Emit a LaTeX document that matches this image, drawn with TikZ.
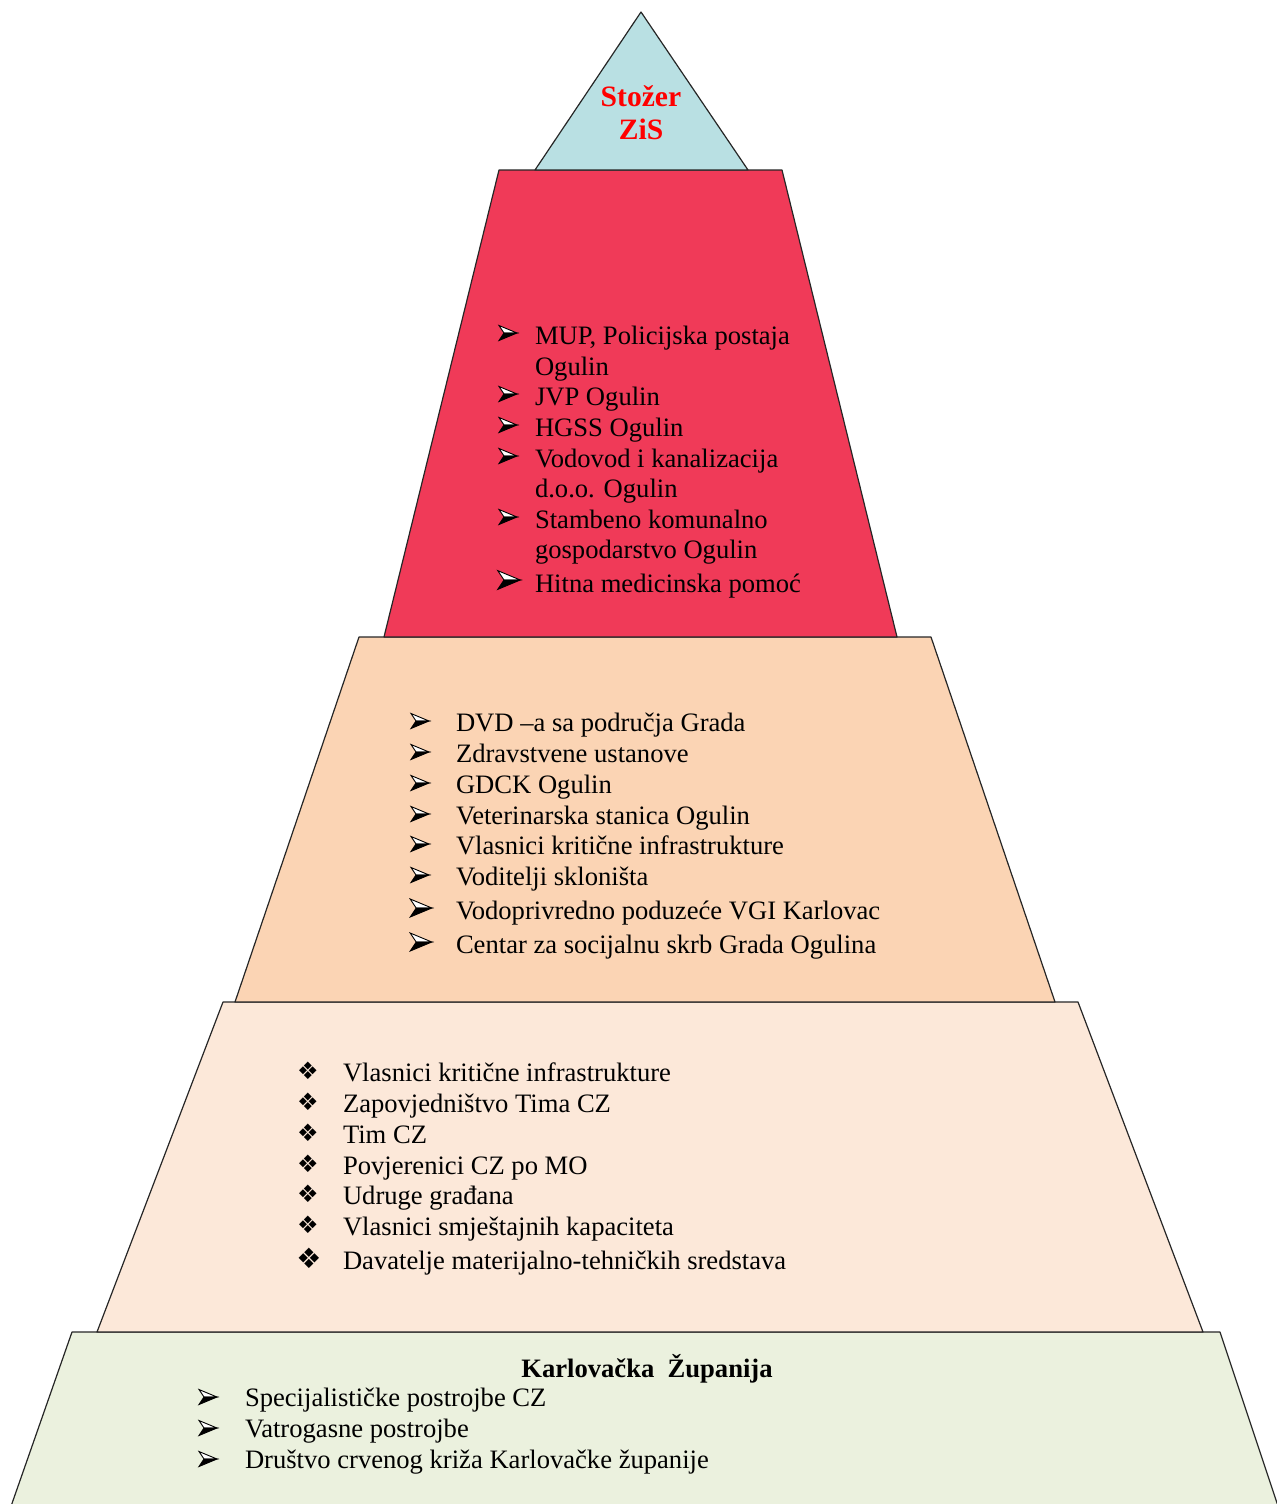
\documentclass[tikz,border=0pt]{standalone}
\usepackage{fontspec}
\setmainfont{Liberation Serif}
\newfontfamily\symfont{DejaVu Sans}
\definecolor{cTop}{HTML}{B9E0E3}
\definecolor{cRed}{HTML}{F03A58}
\definecolor{cPeach}{HTML}{FBD4B4}
\definecolor{cLight}{HTML}{FCE8D9}
\definecolor{cGreen}{HTML}{EBF1DE}
\definecolor{cTitle}{HTML}{FF0000}
\begin{document}
\begin{tikzpicture}[x=0.5pt,y=-0.5pt,
  every node/.style={inner sep=0pt,outer sep=0pt},
  layer/.style={draw=black!85,line width=0.6pt,line join=round},
  txt/.style={anchor=base west,font=\fontsize{13.3}{15}\selectfont},
  dia/.style={anchor=center,font=\symfont\fontsize{12}{13}\selectfont},
  diabig/.style={anchor=center,font=\symfont\fontsize{14}{15}\selectfont},
  title/.style={anchor=base,font=\bfseries\fontsize{14.8}{16}\selectfont,text=cTitle},
  arrowbul/.pic={
    \draw[line width=0.45pt,fill=white,line join=miter] (9,0) -- (-9,-7.5) -- (-4,0) -- cycle;
    \draw[line width=0.45pt,fill=black,line join=miter] (9,0) -- (-4,0) -- (-9,7.5) -- cycle;
  }]
\useasboundingbox (0,0) rectangle (1277,1504);
\clip (0,0) rectangle (1277,1504);
% layers
\draw[layer,fill=cGreen] (72,1332) -- (1220,1332) -- (1280,1512) -- (9,1512) -- cycle;
\draw[layer,fill=cLight] (223,1002) -- (1078,1002) -- (1203,1332) -- (97,1332) -- cycle;
\draw[layer,fill=cPeach] (359,637) -- (931,637) -- (1055,1002) -- (235,1002) -- cycle;
\draw[layer,fill=cRed] (499,170) -- (782,170) -- (897,637) -- (384,637) -- cycle;
\draw[layer,fill=cTop] (641,12) -- (748,170) -- (535,170) -- cycle;
% apex
\node[title] (t1) at (641,107) {Stožer};
\node[title] (t2) at (641,140) {ZiS};
% red section
\pic at (508,333) {arrowbul};
\node[txt] (r1) at (535,344) {MUP, Policijska postaja};
\node[txt] (r1b) at (535,375) {Ogulin};
\pic at (508,394) {arrowbul};
\node[txt] (r2) at (535,405) {JVP Ogulin};
\pic at (508,425) {arrowbul};
\node[txt] (r3) at (535,436) {HGSS Ogulin};
\pic at (508,456) {arrowbul};
\node[txt] (r4) at (535,467) {Vodovod i kanalizacija};
\node[txt] (r4b) at (535,497) {d.o.o. Ogulin};
\pic at (508,517) {arrowbul};
\node[txt] (r5) at (535,528) {Stambeno komunalno};
\node[txt] (r5b) at (535,558) {gospodarstvo Ogulin};
\pic[scale=1.25] at (509,580) {arrowbul};
\node[txt] (r6) at (535,592) {Hitna medicinska pomoć};
% peach section
\pic at (420,721) {arrowbul};
\node[txt] (p1) at (456,731) {DVD –a sa područja Grada};
\pic at (420,752) {arrowbul};
\node[txt] (p2) at (456,762) {Zdravstvene ustanove};
\pic at (420,783) {arrowbul};
\node[txt] (p3) at (456,793) {GDCK Ogulin};
\pic at (420,814) {arrowbul};
\node[txt] (p4) at (456,824) {Veterinarska stanica Ogulin};
\pic at (420,844) {arrowbul};
\node[txt] (p5) at (456,854) {Vlasnici kritične infrastrukture};
\pic at (420,875) {arrowbul};
\node[txt] (p6) at (456,885) {Voditelji skloništa};
\pic[scale=1.2] at (421,908) {arrowbul};
\node[txt] (p7) at (456,919) {Vodoprivredno poduzeće VGI Karlovac};
\pic[scale=1.2] at (421,942) {arrowbul};
\node[txt] (p8) at (456,953) {Centar za socijalnu skrb Grada Ogulina};
% light section
\node[dia] (la1) at (308,1071) {❖};
\node[txt] (l1) at (343,1081) {Vlasnici kritične infrastrukture};
\node[dia] (la2) at (308,1102) {❖};
\node[txt] (l2) at (343,1112) {Zapovjedništvo Tima CZ};
\node[dia] (la3) at (308,1133) {❖};
\node[txt] (l3) at (343,1143) {Tim CZ};
\node[dia] (la4) at (308,1164) {❖};
\node[txt] (l4) at (343,1174) {Povjerenici CZ po MO};
\node[dia] (la5) at (308,1194) {❖};
\node[txt] (l5) at (343,1204) {Udruge građana};
\node[dia] (la6) at (308,1225) {❖};
\node[txt] (l6) at (343,1235) {Vlasnici smještajnih kapaciteta};
\node[diabig] (la7) at (309,1258) {❖};
\node[txt] (l7) at (343,1269) {Davatelje materijalno-tehničkih sredstava};
% bottom section
\node[anchor=base,font=\bfseries\fontsize{13.3}{15}\selectfont] (g0) at (647,1377) {Karlovačka~~Županija};
\pic at (208,1397) {arrowbul};
\node[txt] (g1) at (245,1406) {Specijalističke postrojbe CZ};
\pic at (208,1428) {arrowbul};
\node[txt] (g2) at (245,1437) {Vatrogasne postrojbe};
\pic at (208,1459) {arrowbul};
\node[txt] (g3) at (245,1468) {Društvo crvenog križa Karlovačke županije};
\end{tikzpicture}
\end{document}
